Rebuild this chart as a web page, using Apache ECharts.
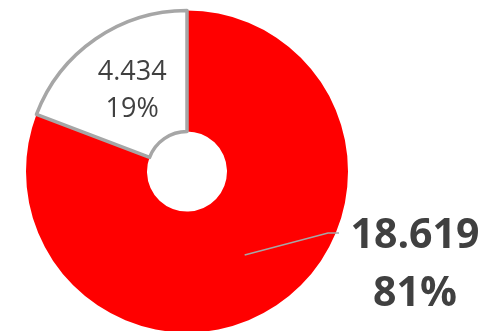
<!DOCTYPE html>
<html>
<head>
<meta charset="utf-8">
<script src="https://cdn.jsdelivr.net/npm/echarts@6/dist/echarts.min.js"></script>
<style>
  html, body { margin: 0; padding: 0; background: #fff; }
  #chart { width: 485px; height: 331px; }
</style>
</head>
<body>
<div id="chart"></div>
<script>
// Two-part doughnut: share of each part in the total
const categories = ['Parte A', 'Parte B'];
const values = [18.619, 4.434];
const colors = ['#FF0000', '#FFFFFF'];

// geometry of the ring (pixels)
const CX = 187, CY = 171.5, R0 = 40, R = 161;
// anchor of the large outside label
const LABEL_X = 415, LABEL_Y = 265;

const total = values.reduce((a, b) => a + b, 0);

function midAngle(i) {
  let before = 0;
  for (let k = 0; k < i; k++) before += values[k];
  const frac = (before + values[i] / 2) / total;
  return (90 - 360 * frac) * Math.PI / 180;
}

function fmt(v, pct) {
  return v.toFixed(3) + '\n' + Math.round(pct) + '%';
}

// leader line of the big label: from the middle of the ring to the label
const a0 = midAngle(0);
const rm = (R0 + R) / 2 + 1;
const leaderStart = [CX + rm * Math.cos(a0), CY - rm * Math.sin(a0)];
const leaderEnd = [LABEL_X - 76, LABEL_Y - 32];
const leaderElbow = [leaderEnd[0] - 11, leaderEnd[1]];

const chart = echarts.init(document.getElementById('chart'));
chart.setOption({
  animation: false,
  graphic: [{
    type: 'polyline',
    z: 100,
    silent: true,
    shape: { points: [leaderStart, leaderElbow, leaderEnd] },
    style: { stroke: '#A6A6A6', lineWidth: 1.5, fill: null }
  }],
  series: [{
    type: 'pie',
    center: [CX, CY],
    radius: [R0, R],
    startAngle: 90,
    clockwise: true,
    avoidLabelOverlap: false,
    labelLine: { show: false },
    data: categories.map((name, i) => ({
      name: name,
      value: values[i],
      itemStyle: i === 0
        ? { color: colors[i], borderWidth: 0 }
        : { color: colors[i], borderColor: '#A6A6A6', borderWidth: 3.5 },
      label: i === 0
        ? {
            position: 'outside',
            overflow: 'none',
            color: '#404040',
            fontFamily: 'Open Sans',
            fontWeight: 'bold',
            fontSize: 41,
            lineHeight: 58,
            align: 'center'
          }
        : {
            position: 'inside',
            color: '#404040',
            fontFamily: 'Open Sans',
            fontSize: 27,
            lineHeight: 37,
            align: 'center'
          }
    })),
    label: {
      formatter: p => fmt(p.value, p.percent)
    },
    labelLayout: function (p) {
      if (p.dataIndex !== 0) return { dx: 4, dy: 4 };
      return {
        x: LABEL_X,
        y: LABEL_Y,
        align: 'center',
        verticalAlign: 'middle'
      };
    }
  }]
});
</script>
</body>
</html>
